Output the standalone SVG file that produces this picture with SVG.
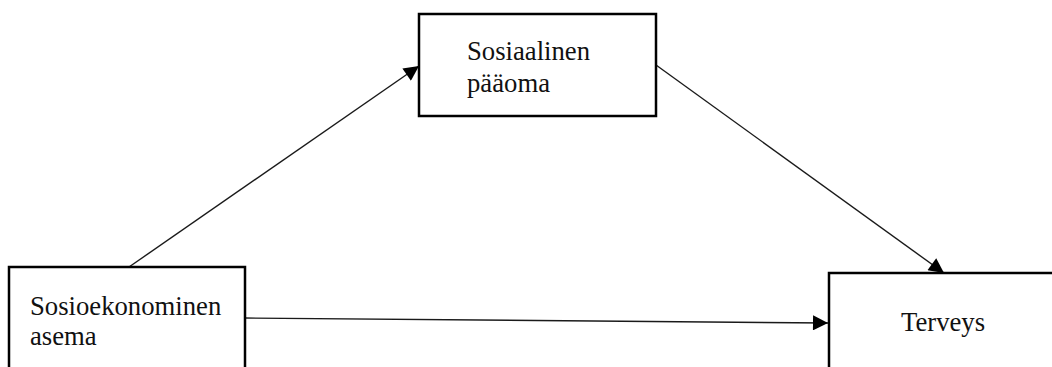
<svg xmlns="http://www.w3.org/2000/svg" width="1052" height="367" viewBox="0 0 1052 367">
  <style>
    .box { fill: #ffffff; stroke: #000000; stroke-width: 2.5; }
    .lbl { font-family: "Liberation Serif", "Times New Roman", serif; font-size: 26.7px; fill: #111111; }
    .conn { stroke: #1a1a1a; stroke-width: 1.4; fill: none; marker-end: url(#arrow); }
  </style>
  <defs>
    <marker id="arrow" viewBox="0 0 10 10" refX="10" refY="5" markerUnits="userSpaceOnUse" markerWidth="17" markerHeight="15" orient="auto">
      <path d="M0,0 L10,5 L0,10 Z" fill="#000000"/>
    </marker>
  </defs>
  <rect width="1052" height="367" fill="#ffffff"/>
  <g id="connectors">
    <line class="conn" x1="129" y1="267" x2="419" y2="66"/>
    <line class="conn" x1="656" y1="65" x2="944" y2="273"/>
    <line class="conn" x1="245" y1="318" x2="828" y2="323"/>
  </g>
  <g id="node-sosiaalinen">
    <rect class="box" x="419" y="14" width="237" height="102"/>
    <text class="lbl" x="467" y="60">Sosiaalinen</text>
    <text class="lbl" x="467" y="92">pääoma</text>
  </g>
  <g id="node-sosioekonominen">
    <rect class="box" x="9" y="267" width="236" height="120"/>
    <text class="lbl" x="30" y="315">Sosioekonominen</text>
    <text class="lbl" x="30" y="345">asema</text>
  </g>
  <g id="node-terveys">
    <rect class="box" x="829" y="273" width="240" height="120"/>
    <text class="lbl" x="901" y="331">Terveys</text>
  </g>
</svg>
